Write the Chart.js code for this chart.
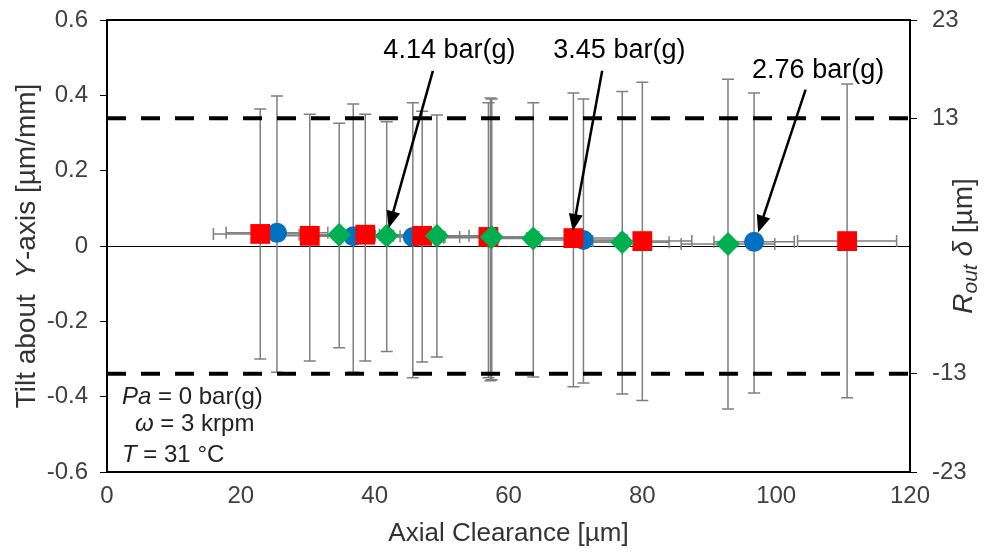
<!DOCTYPE html>
<html>
<head>
<meta charset="utf-8">
<script src="https://cdn.jsdelivr.net/npm/chart.js@4.4.0/dist/chart.umd.min.js"></script>
<style>
  html, body { margin: 0; padding: 0; background: #fff; }
  #wrap { width: 1000px; height: 552px; }
</style>
</head>
<body>
<div id="wrap"><canvas id="chart" width="1000" height="552"></canvas></div>
<script>
// 2.76 bar(g) - blue circles
const blueX    = [25.4, 36.8, 45.7, 57.3, 71.2, 96.7];
const blueY    = [0.035, 0.026, 0.024, 0.022, 0.016, 0.011];
const blueHi   = [0.398, 0.377, 0.380, 0.393, 0.390, 0.406];
const blueLo   = [-0.335, -0.335, -0.350, -0.358, -0.364, -0.390];
const blueXErr = [7.6, 7.0, 7.0, 7.0, 6.5, 6.0];

// 3.45 bar(g) - red squares
const redX    = [22.9, 30.3, 38.6, 47.1, 57.0, 69.7, 80.0, 110.6];
const redY    = [0.032, 0.027, 0.030, 0.027, 0.024, 0.021, 0.013, 0.013];
const redHi   = [0.364, 0.350, 0.350, 0.358, 0.380, 0.406, 0.435, 0.430];
const redLo   = [-0.300, -0.305, -0.305, -0.308, -0.350, -0.374, -0.410, -0.403];
const redXErr = [7.0, 7.0, 7.0, 7.0, 7.0, 7.0, 7.4, 7.4];

// 4.14 bar(g) - green diamonds
const greenX    = [34.7, 41.8, 49.3, 57.5, 63.7, 77.0, 92.8];
const greenY    = [0.030, 0.027, 0.027, 0.024, 0.020, 0.010, 0.005];
const greenHi   = [0.326, 0.330, 0.348, 0.390, 0.380, 0.410, 0.443];
const greenLo   = [-0.270, -0.280, -0.295, -0.355, -0.348, -0.393, -0.433];
const greenXErr = [6.0, 6.0, 6.5, 7.0, 7.0, 7.0, 7.0];

// limits on right axis (µm)
const limitValues = [13, -13];
const rightTicks = [-23, -13, 13, 23];

// annotation labels: [text, textX, textY, arrowFromX, arrowFromY, arrowToX, arrowToY]
const notes = [
  ['4.14 bar(g)', 41.3, 0.52, 48.7, 0.465, 42.1, 0.048],
  ['3.45 bar(g)', 66.7, 0.52, 74.0, 0.465, 69.6, 0.040],
  ['2.76 bar(g)', 96.4, 0.467, 104.4, 0.415, 97.3, 0.036]
];

const FONT = '"Liberation Sans", Arial, sans-serif';

function toPoints(xs, ys) {
  return xs.map((x, i) => ({ x: x, y: ys[i] }));
}

const errorSets = [
  { xs: blueX, ys: blueY, hi: blueHi, lo: blueLo, xe: blueXErr },
  { xs: redX, ys: redY, hi: redHi, lo: redLo, xe: redXErr },
  { xs: greenX, ys: greenY, hi: greenHi, lo: greenLo, xe: greenXErr }
];

const errorBars = {
  id: 'errorBars',
  beforeDatasetsDraw(chart) {
    const ctx = chart.ctx;
    const xs = chart.scales.x, ys = chart.scales.y;
    const a = chart.chartArea;
    ctx.save();
    ctx.beginPath();
    ctx.rect(a.left, a.top, a.right - a.left, a.bottom - a.top);
    ctx.clip();
    ctx.strokeStyle = '#7f7f7f';
    ctx.lineWidth = 1.5;
    const cap = 6;
    errorSets.forEach(set => {
      set.xs.forEach((x, i) => {
        const px = xs.getPixelForValue(x);
        const py = ys.getPixelForValue(set.ys[i]);
        const top = ys.getPixelForValue(set.hi[i]);
        const bot = ys.getPixelForValue(set.lo[i]);
        const l = xs.getPixelForValue(x - set.xe[i]);
        const r = xs.getPixelForValue(x + set.xe[i]);
        ctx.beginPath();
        ctx.moveTo(px, top); ctx.lineTo(px, bot);
        ctx.moveTo(px - cap, top); ctx.lineTo(px + cap, top);
        ctx.moveTo(px - cap, bot); ctx.lineTo(px + cap, bot);
        ctx.moveTo(l, py); ctx.lineTo(r, py);
        ctx.moveTo(l, py - cap); ctx.lineTo(l, py + cap);
        ctx.moveTo(r, py - cap); ctx.lineTo(r, py + cap);
        ctx.stroke();
      });
    });
    ctx.restore();
  }
};

// parts: [text, italic, subscript]
function drawRich(ctx, parts, x, y, align, size) {
  const fontFor = p => (p[1] ? 'italic ' : '') + Math.round(p[2] ? size * 0.75 : size) + 'px ' + FONT;
  let total = 0;
  parts.forEach(p => {
    ctx.font = fontFor(p);
    total += ctx.measureText(p[0]).width;
  });
  let cx = align === 'center' ? x - total / 2 : x;
  parts.forEach(p => {
    ctx.font = fontFor(p);
    ctx.fillText(p[0], cx, y + (p[2] ? size * 0.25 : 0));
    cx += ctx.measureText(p[0]).width;
  });
}

const decorations = {
  id: 'decorations',
  afterDatasetsDraw(chart) {
    const ctx = chart.ctx;
    const xs = chart.scales.x, ys = chart.scales.y;
    const a = chart.chartArea;
    ctx.save();
    // arrows and labels
    ctx.fillStyle = '#000';
    ctx.strokeStyle = '#000';
    notes.forEach(n => {
      ctx.font = '27px ' + FONT;
      ctx.textAlign = 'left';
      ctx.textBaseline = 'middle';
      ctx.fillText(n[0], xs.getPixelForValue(n[1]), ys.getPixelForValue(n[2]));
      const x0 = xs.getPixelForValue(n[3]), y0 = ys.getPixelForValue(n[4]);
      const x1 = xs.getPixelForValue(n[5]), y1 = ys.getPixelForValue(n[6]);
      const ang = Math.atan2(y1 - y0, x1 - x0);
      const hl = 17, hw = 7;
      ctx.lineWidth = 2.5;
      ctx.beginPath();
      ctx.moveTo(x0, y0);
      ctx.lineTo(x1 - Math.cos(ang) * hl * 0.8, y1 - Math.sin(ang) * hl * 0.8);
      ctx.stroke();
      ctx.beginPath();
      ctx.moveTo(x1, y1);
      ctx.lineTo(x1 - Math.cos(ang) * hl - Math.sin(ang) * hw, y1 - Math.sin(ang) * hl + Math.cos(ang) * hw);
      ctx.lineTo(x1 - Math.cos(ang) * hl + Math.sin(ang) * hw, y1 - Math.sin(ang) * hl - Math.cos(ang) * hw);
      ctx.closePath();
      ctx.fill();
    });
    // operating condition text
    ctx.fillStyle = '#222';
    ctx.textBaseline = 'middle';
    ctx.textAlign = 'left';
    drawRich(ctx, [['Pa', true], [' = 0 bar(g)', false]], a.left + 15, a.top + 377, 'left', 24);
    drawRich(ctx, [['ω', true], [' = 3 krpm', false]], a.left + 28, a.top + 404, 'left', 24);
    drawRich(ctx, [['T', true], [' = 31 °C', false]], a.left + 15, a.top + 435, 'left', 24);
    ctx.restore();
  },
  afterDraw(chart) {
    const ctx = chart.ctx;
    const a = chart.chartArea;
    ctx.save();
    ctx.strokeStyle = '#000';
    ctx.lineWidth = 2;
    ctx.strokeRect(a.left, a.top, a.right - a.left, a.bottom - a.top);
    ctx.fillStyle = '#333';
    ctx.textBaseline = 'middle';
    // bottom title
    drawRich(ctx, [['Axial Clearance [µm]', false]], (a.left + a.right) / 2, 534, 'center', 26);
    // left title
    ctx.save();
    ctx.translate(27, (a.top + a.bottom) / 2);
    ctx.rotate(-Math.PI / 2);
    drawRich(ctx, [['Tilt about  ', false], ['Y', true], ['-axis [µm/mm]', false]], 0, 0, 'center', 28);
    ctx.restore();
    // right title
    ctx.save();
    ctx.translate(964, (a.top + a.bottom) / 2);
    ctx.rotate(-Math.PI / 2);
    drawRich(ctx, [['R', true], ['out', true, true], [' δ', true], [' [µm]', false]], 0, 0, 'center', 28);
    ctx.restore();
    ctx.restore();
  }
};

const tickFont = { family: FONT, size: 24 };

function fitY(width) {
  return s => {
    s.width = width;
    s.paddingTop = 0;
    s.paddingBottom = 0;
  };
}

new Chart(document.getElementById('chart').getContext('2d'), {
  type: 'scatter',
  data: {
    datasets: [
      {
        label: '4.14 bar(g)',
        data: toPoints(greenX, greenY),
        pointStyle: 'rectRot',
        pointRadius: 12,
        backgroundColor: '#00b050',
        borderColor: '#00b050',
        borderWidth: 0,
        order: 1
      },
      {
        label: '3.45 bar(g)',
        data: toPoints(redX, redY),
        pointStyle: 'rect',
        pointRadius: 14,
        backgroundColor: '#ff0000',
        borderColor: '#ff0000',
        borderWidth: 0,
        order: 2
      },
      {
        label: '2.76 bar(g)',
        data: toPoints(blueX, blueY),
        pointStyle: 'circle',
        pointRadius: 10,
        backgroundColor: '#0070c0',
        borderColor: '#0070c0',
        borderWidth: 0,
        order: 3
      },
      ...limitValues.map((v, i) => ({
        type: 'line',
        label: 'limit ' + i,
        yAxisID: 'y2',
        data: [{ x: 0, y: v }, { x: 120, y: v }],
        borderColor: '#000',
        borderWidth: 4,
        borderDash: [19, 15],
        pointRadius: 0,
        order: 4 + i
      }))
    ]
  },
  options: {
    responsive: false,
    animation: false,
    devicePixelRatio: 1,
    layout: { padding: { top: 20, left: 0, right: 0, bottom: 0 } },
    plugins: {
      legend: { display: false },
      tooltip: { enabled: false }
    },
    scales: {
      x: {
        type: 'linear',
        min: 0,
        max: 120,
        ticks: { stepSize: 20, font: tickFont, color: '#404040', padding: 10 },
        grid: { display: false, drawTicks: false },
        border: { display: false },
        afterFit: s => { s.height = 80; s.paddingLeft = 0; s.paddingRight = 0; }
      },
      y: {
        position: 'left',
        min: -0.6,
        max: 0.6,
        ticks: {
          stepSize: 0.2,
          font: tickFont,
          color: '#404040',
          padding: 12,
          callback: v => (Math.abs(v) < 1e-9 ? '0' : (Math.round(v * 10) / 10).toString())
        },
        grid: {
          drawOnChartArea: true,
          color: c => (c.tick && Math.abs(c.tick.value) < 1e-9 ? '#000' : 'rgba(0,0,0,0)'),
          tickColor: '#000',
          tickLength: 7,
          lineWidth: 1
        },
        border: { display: false },
        afterFit: fitY(107)
      },
      y2: {
        position: 'right',
        min: -23,
        max: 23,
        afterBuildTicks: s => { s.ticks = rightTicks.map(v => ({ value: v })); },
        ticks: { font: tickFont, color: '#404040', padding: 15 },
        grid: { drawOnChartArea: false, tickColor: '#000', tickLength: 7 },
        border: { display: false },
        afterFit: fitY(90)
      }
    }
  },
  plugins: [errorBars, decorations]
});
</script>
</body>
</html>
